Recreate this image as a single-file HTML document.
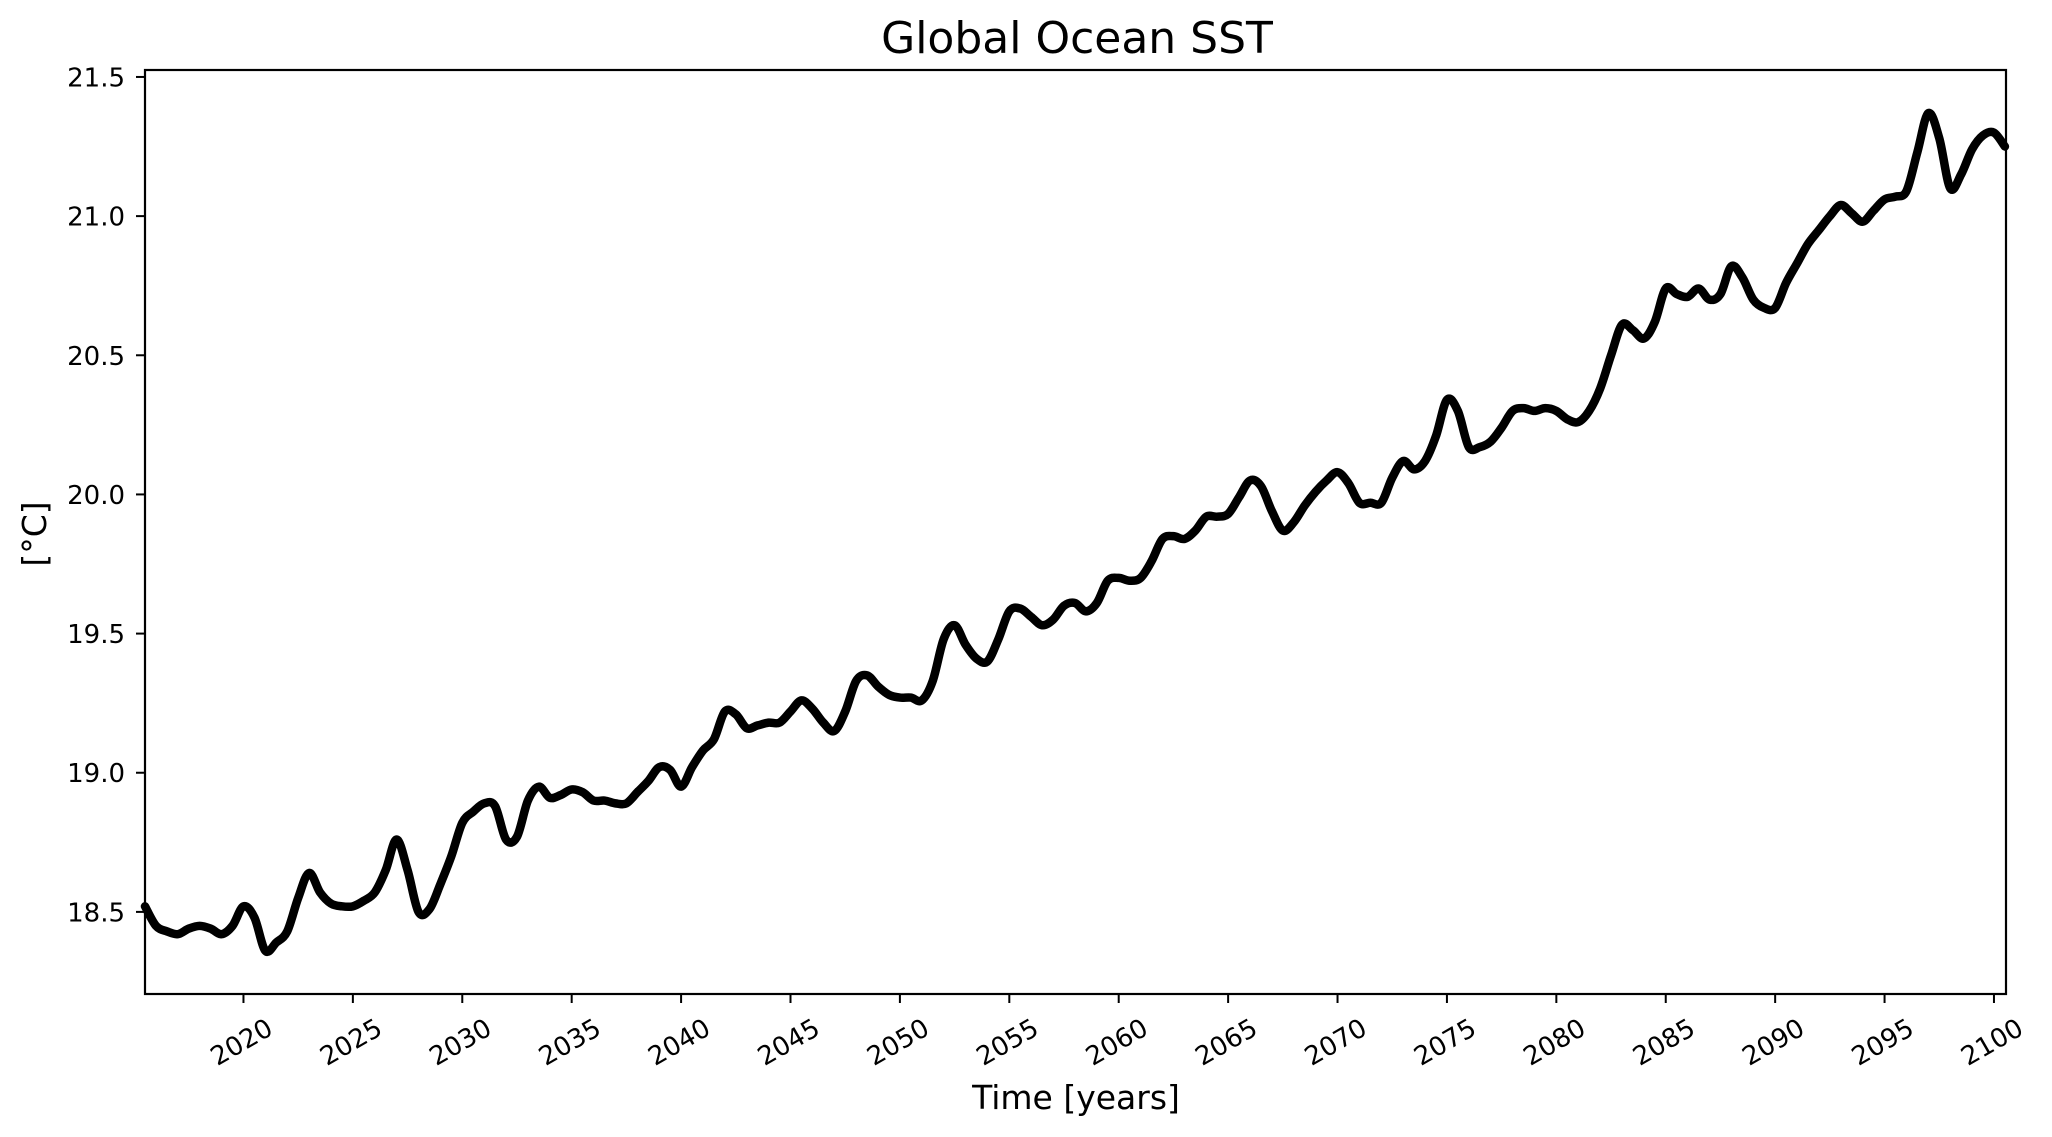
<!DOCTYPE html>
<html><head><meta charset="utf-8"><style>
html,body{margin:0;padding:0;background:#fff;}
svg{display:block;font-family:"DejaVu Sans","Liberation Sans",sans-serif;}
</style></head><body>
<svg id="chart" width="2052" height="1137">
<text x="1077" y="53" text-anchor="middle" font-size="44">Global Ocean SST</text>
<text x="1076" y="1109" text-anchor="middle" font-size="33">Time [years]</text>
<text transform="translate(46,534) rotate(-90)" text-anchor="middle" font-size="33">[°C]</text>
<g id="ticks"></g>
<path id="line" fill="none" stroke="#000" stroke-width="8.5" stroke-linejoin="round" stroke-linecap="round"/>
<rect x="145" y="70" width="1861" height="924" fill="none" stroke="#000" stroke-width="2.2"/>
</svg>
<script>
const years = [];
for (let i = 0; i <= 170; i++) years.push(2015.5 + i * 0.5);
const sst = [18.52,18.45,18.43,18.42,18.44,18.45,18.44,18.42,18.45,18.52,18.48,18.36,18.39,18.43,18.55,18.64,18.57,18.53,18.52,18.52,18.54,18.57,18.65,18.76,18.65,18.50,18.51,18.60,18.70,18.82,18.86,18.89,18.88,18.76,18.77,18.90,18.95,18.91,18.92,18.94,18.93,18.90,18.90,18.89,18.89,18.93,18.97,19.02,19.01,18.95,19.02,19.08,19.12,19.22,19.21,19.16,19.17,19.18,19.18,19.22,19.26,19.23,19.18,19.15,19.22,19.33,19.35,19.31,19.28,19.27,19.27,19.26,19.33,19.48,19.53,19.46,19.41,19.40,19.48,19.58,19.59,19.56,19.53,19.55,19.60,19.61,19.58,19.61,19.69,19.70,19.69,19.70,19.76,19.84,19.85,19.84,19.87,19.92,19.92,19.93,19.99,20.05,20.03,19.94,19.87,19.90,19.96,20.01,20.05,20.08,20.04,19.97,19.97,19.97,20.06,20.12,20.09,20.12,20.21,20.34,20.30,20.17,20.17,20.19,20.24,20.30,20.31,20.30,20.31,20.30,20.27,20.26,20.30,20.38,20.50,20.61,20.59,20.56,20.62,20.74,20.72,20.71,20.74,20.70,20.72,20.82,20.78,20.70,20.67,20.67,20.76,20.83,20.90,20.95,21.00,21.04,21.01,20.98,21.02,21.06,21.07,21.09,21.23,21.37,21.28,21.10,21.15,21.24,21.29,21.30,21.25];
const xTicks = [2020,2025,2030,2035,2040,2045,2050,2055,2060,2065,2070,2075,2080,2085,2090,2095,2100];
const yTicks = [18.5,19.0,19.5,20.0,20.5,21.0,21.5];
const yTickLabels = ["18.5","19.0","19.5","20.0","20.5","21.0","21.5"];

const X0=145,X1=2006,Y0=994,Y1=70;
const xMin=2015.5,xMax=2100.55,yMin=18.205,yMax=21.525;
function xs(v){return X0+(v-xMin)/(xMax-xMin)*(X1-X0);}
function ys(v){return Y0-(v-yMin)/(yMax-yMin)*(Y0-Y1);}
const NS="http://www.w3.org/2000/svg";
const tg=document.getElementById('ticks');
xTicks.forEach(t=>{
  const x=xs(t);
  const l=document.createElementNS(NS,'line');
  l.setAttribute('x1',x);l.setAttribute('x2',x);l.setAttribute('y1',Y0);l.setAttribute('y2',Y0+9);
  l.setAttribute('stroke','#000');l.setAttribute('stroke-width','2');
  
  
  tg.appendChild(l);
  const tx=document.createElementNS(NS,'text');
  tx.setAttribute('x',x-2);tx.setAttribute('y',1051);tx.setAttribute('text-anchor','middle');tx.setAttribute('font-size','26');
  tx.setAttribute('transform','rotate(-30 '+(x-2)+' 1042)');
  tx.textContent=t;
  
  
  tg.appendChild(tx);
});
yTicks.forEach((t,i)=>{
  const y=ys(t);
  const l=document.createElementNS(NS,'line');
  l.setAttribute('x1',X0-9);l.setAttribute('x2',X0);l.setAttribute('y1',y);l.setAttribute('y2',y);
  l.setAttribute('stroke','#000');l.setAttribute('stroke-width','2');
  
  
  tg.appendChild(l);
  const tx=document.createElementNS(NS,'text');
  tx.setAttribute('x',125);tx.setAttribute('y',y+9.5);tx.setAttribute('text-anchor','end');tx.setAttribute('font-size','26');
  tx.textContent=yTickLabels[i];
  
  
  tg.appendChild(tx);
});
const P=years.map((y,i)=>[xs(y),ys(sst[i])]);
let d='M'+P[0][0]+','+P[0][1];
for(let i=0;i<P.length-1;i++){
  const p0=P[Math.max(0,i-1)],p1=P[i],p2=P[i+1],p3=P[Math.min(P.length-1,i+2)];
  const c1=[p1[0]+(p2[0]-p0[0])/6,p1[1]+(p2[1]-p0[1])/6];
  const c2=[p2[0]-(p3[0]-p1[0])/6,p2[1]-(p3[1]-p1[1])/6];
  d+=' C'+c1[0]+','+c1[1]+' '+c2[0]+','+c2[1]+' '+p2[0]+','+p2[1];
}
document.getElementById('line').setAttribute('d',d);
</script>
</body></html>
